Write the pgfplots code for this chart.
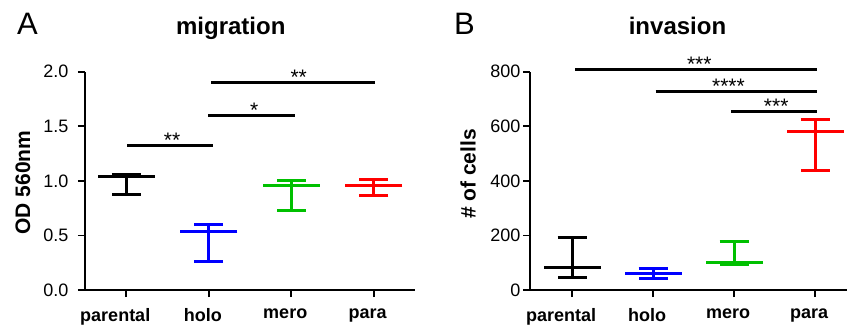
\documentclass[border=0pt]{standalone}
\usepackage{pgfplots}
\pgfplotsset{compat=1.18}
\usepackage{fontspec}
\setmainfont{Liberation Sans}
\definecolor{pgreen}{RGB}{0,192,0}
\definecolor{pblue}{RGB}{0,0,255}
\definecolor{pred}{RGB}{255,0,0}

\pgfplotstableread{
x y ep em
0 1.037 0.025 0.158
}\Amig
\pgfplotstableread{
x y ep em
1 0.540 0.064 0.280
}\Bmig
\pgfplotstableread{
x y ep em
2 0.955 0.052 0.229
}\Cmig
\pgfplotstableread{
x y ep em
3 0.955 0.058 0.091
}\Dmig
\pgfplotstableread{
x y ep em
0 82 112 37
}\Ainv
\pgfplotstableread{
x y ep em
1 61 16 18
}\Binv
\pgfplotstableread{
x y ep em
2 101 77 9
}\Cinv
\pgfplotstableread{
x y ep em
3 580 44 142
}\Dinv

\tikzset{
  star/.style={anchor=base, font=\fontsize{21}{21}\selectfont, inner sep=0pt, yshift=-2pt},
}
\begin{document}
\begin{tikzpicture}
\useasboundingbox (0pt,0pt) rectangle (847pt,327pt);
\pgfplotsset{
  prism/.style={
    scale only axis,
    axis lines=left,
    axis line style={-, line width=1.8pt},
    every tick/.style={line width=1.8pt, black},
    tick align=outside,
    major tick length=7pt,
    xtick={0,1,2,3},
    xticklabels={parental\hspace*{10pt},holo,mero,para},
    xticklabel style={font=\fontsize{18}{18}\selectfont\bfseries, xshift=-6pt, yshift=-8pt},
    yticklabel style={font=\fontsize{18}{18}\selectfont},
    /pgf/number format/assume math mode=true,
    clip=false,
    height=218.3pt,
  },
  grp/.style={only marks, mark=-, mark size=28.5pt, mark options={line width=3pt, #1},
    error bars/.cd, y dir=both, y explicit,
    error bar style={line width=3pt, #1},
    error mark=-,
    error mark options={rotate=90, mark size=14.5pt, line width=3pt, #1}},
  sig/.style={black, line width=3pt},
}
% Panel A
\begin{axis}[prism, at={(85pt,37pt)}, anchor=south west,
  width=330pt, xmin=-0.5, xmax=3.5, ymin=0, ymax=2,
  ytick={0,0.5,1,1.5,2},
  yticklabel style={xshift=-6pt, /pgf/number format/.cd, fixed, fixed zerofill, precision=1}]
\addplot[grp=black] table[x=x, y=y, y error plus=ep, y error minus=em] {\Amig};
\addplot[grp=pblue] table[x=x, y=y, y error plus=ep, y error minus=em] {\Bmig};
\addplot[grp=pgreen] table[x=x, y=y, y error plus=ep, y error minus=em] {\Cmig};
\addplot[grp=pred] table[x=x, y=y, y error plus=ep, y error minus=em] {\Dmig};
\addplot[sig] coordinates {(0.01,1.325) (1.056,1.325)};
\addplot[sig] coordinates {(0.995,1.597) (2.05,1.597)};
\addplot[sig] coordinates {(1.03,1.9) (3.02,1.9)};
\node[star] at (axis cs:0.556,1.325) {**};
\node[star] at (axis cs:1.55,1.597) {*};
\node[star] at (axis cs:2.09,1.9) {**};
\end{axis}
% Panel B
\begin{axis}[prism, at={(530pt,37pt)}, anchor=south west,
  width=317.5pt, xmin=-0.52, xmax=3.4, ymin=0, ymax=800,
  ytick={0,200,400,600,800}, yticklabel style={xshift=1pt}]
\addplot[grp=black] table[x=x, y=y, y error plus=ep, y error minus=em] {\Ainv};
\addplot[grp=pblue] table[x=x, y=y, y error plus=ep, y error minus=em] {\Binv};
\addplot[grp=pgreen] table[x=x, y=y, y error plus=ep, y error minus=em] {\Cinv};
\addplot[grp=pred] table[x=x, y=y, y error plus=ep, y error minus=em] {\Dinv};
\addplot[sig] coordinates {(0.04,808) (3.02,808)};
\addplot[sig] coordinates {(1.03,727) (3.02,727)};
\addplot[sig] coordinates {(1.96,653.6) (3.02,653.6)};
\node[star] at (axis cs:1.57,808) {***};
\node[star] at (axis cs:1.93,727) {****};
\node[star] at (axis cs:2.52,653.6) {***};
\end{axis}
% titles, panel letters, axis titles
\node[anchor=base, font=\fontsize{24}{24}\selectfont\bfseries, inner sep=0pt] at (230.8pt,292pt) {migration};
\node[anchor=base, font=\fontsize{24}{24}\selectfont\bfseries, inner sep=0pt] at (677.5pt,292pt) {invasion};
\node[anchor=base west, font=\fontsize{31}{31}\selectfont, inner sep=0pt] at (17pt,292pt) {A};
\node[anchor=base west, font=\fontsize{31}{31}\selectfont, inner sep=0pt] at (454pt,292pt) {B};
\node[rotate=90, font=\fontsize{21}{21}\selectfont\bfseries, inner sep=0pt] at (23pt,144.5pt) {OD 560nm};
\node[rotate=90, font=\fontsize{21}{21}\selectfont\bfseries, inner sep=0pt] at (468pt,153pt) {\# of cells};
\end{tikzpicture}
\end{document}
